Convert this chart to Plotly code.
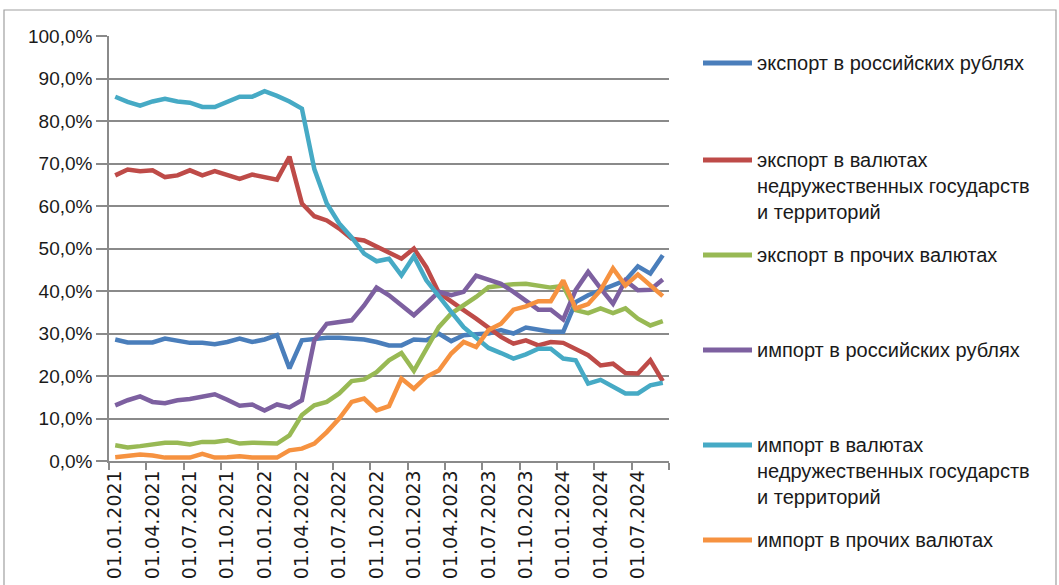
import plotly.graph_objects as go

# ---------------- data ----------------
months = [f"01.{m:02d}.{y}" for y in range(2021, 2025) for m in range(1, 13)][:45]

series_names = [
    "экспорт в российских рублях",
    "экспорт в валютах недружественных государств и территорий",
    "экспорт в прочих валютах",
    "импорт в российских рублях",
    "импорт в валютах недружественных государств и территорий",
    "импорт в прочих валютах",
]

export_rub = [28.6, 27.9, 27.9, 27.9, 28.8, 28.2, 27.8, 27.8, 27.5, 28.0, 28.8, 28.0, 28.6, 29.6, 21.8, 28.4,
              28.8, 29.0, 29.0, 28.8, 28.6, 28.0, 27.2, 27.2, 28.6, 28.4, 30.0, 28.2, 29.6,
              29.8, 30.0, 30.8, 30.0, 31.4, 30.8, 30.4, 30.4, 37.4, 39.0, 40.2, 41.3, 42.5, 45.8, 44.1, 48.4]

export_unfriendly = [67.2, 68.6, 68.2, 68.4, 66.8, 67.2, 68.4, 67.2, 68.2, 67.2, 66.4, 67.4, 66.8, 66.2, 71.6,
                     60.6, 57.6, 56.6, 54.7, 52.3, 51.9, 50.5, 49.2, 47.6, 50.0, 45.6, 39.6,
                     37.4, 35.5, 33.5, 31.2, 29.2, 27.6, 28.4, 27.2, 28.0, 27.8, 26.4, 24.9, 22.5, 22.9,
                     20.7, 20.6, 23.7, 18.8]

export_other = [3.7, 3.2, 3.5, 3.9, 4.3, 4.3, 3.9, 4.5, 4.5, 4.9, 4.1, 4.3, 4.3, 4.1, 6.0, 10.8,
                13.1, 13.9, 15.9, 18.8, 19.2, 20.9, 23.7, 25.4, 21.2, 26.4, 31.5, 34.7, 36.6, 38.6,
                40.9, 41.3, 41.6, 41.7, 41.3, 40.8, 41.2, 35.5, 34.8, 35.9, 34.8, 35.9, 33.5, 31.9, 32.9]

import_rub = [13.1, 14.3, 15.2, 13.9, 13.6, 14.3, 14.6, 15.1, 15.7, 14.4, 13.0, 13.3, 11.9, 13.3, 12.6, 14.3,
              28.4, 32.3, 32.7, 33.1, 36.6, 40.8, 39.0, 36.6, 34.3, 37.0, 39.8, 39.0, 39.8,
              43.6, 42.7, 41.7, 39.8, 37.8, 35.6, 35.6, 33.3, 40.2, 44.5, 40.6, 37.0, 42.5, 40.2, 40.3, 42.7]

import_unfriendly = [85.7, 84.5, 83.6, 84.6, 85.2, 84.6, 84.3, 83.3, 83.3, 84.6, 85.7, 85.7, 87.0, 85.9, 84.6, 82.9,
                     68.7, 60.6, 55.9, 52.6, 48.8, 47.0, 47.6, 43.7, 48.2, 42.5, 38.6, 35.1, 31.5, 29.2,
                     26.6, 25.4, 24.1, 25.1, 26.4, 26.4, 24.1, 23.7, 18.2, 19.1, 17.4, 15.9, 15.9, 17.8, 18.4]

import_other = [0.9, 1.3, 1.5, 1.3, 0.8, 0.8, 0.8, 1.7, 0.8, 0.9, 1.1, 0.8, 0.8, 0.8, 2.5, 2.9,
                4.1, 6.8, 10.0, 13.9, 14.7, 11.9, 12.9, 19.4, 17.0, 19.8, 21.3, 25.3, 28.0, 26.8,
                30.8, 32.3, 35.6, 36.4, 37.6, 37.6, 42.5, 35.9, 36.9, 40.2, 45.3, 41.3, 43.9, 41.3, 38.8]

series_values = [export_rub, export_unfriendly, export_other, import_rub, import_unfriendly, import_other]

# legend text split into lines as in the original
legend_lines = [
    ["экспорт в российских рублях"],
    ["экспорт в валютах", "недружественных государств", "и территорий"],
    ["экспорт в прочих валютах"],
    ["импорт в российских рублях"],
    ["импорт в валютах", "недружественных государств", "и территорий"],
    ["импорт в прочих валютах"],
]

# ---------------- styles ----------------
colors = ["#4A7EBB", "#BE4B48", "#98B954", "#7D60A0", "#46AAC5", "#F69240"]
GRID = "#8a8a8a"
FONT = "Liberation Sans, Arial, sans-serif"

W, H = 1059, 585
L, R, T, B = 109, 669, 36, 461  # plot area in pixels


def px_x(p):
    return (p - L) / (R - L)


def px_y(p):
    return (B - p) / (B - T)


fig = go.Figure()
x_idx = list(range(len(months)))
for name, vals, col in zip(series_names, series_values, colors):
    fig.add_trace(go.Scatter(
        x=x_idx, y=[v / 100 for v in vals], name=name, mode="lines",
        line=dict(color=col, width=4.5), showlegend=False,
        hovertemplate="%{text}: %{y:.1%}<extra>" + name + "</extra>",
        text=months,
    ))

label_idx = list(range(0, len(months), 3))
boundary_ticks = [i - 0.5 for i in range(0, len(months) + 1, 3)]

fig.update_layout(
    width=W, height=H,
    margin=dict(l=L, r=W - R, t=T, b=H - B, pad=0, autoexpand=False),
    paper_bgcolor="white", plot_bgcolor="white",
    separators=", ",
    font=dict(family=FONT, size=19, color="#1a1a1a"),
    xaxis=dict(
        range=[-0.5, len(months) - 0.5], automargin=False,
        tickmode="array", tickvals=label_idx, ticktext=[months[i] for i in label_idx],
        tickangle=-90, ticks="",
        tickfont=dict(family="DejaVu Sans, sans-serif", size=19, color="#1a1a1a"),
        showgrid=False, zeroline=False,
        showline=True, linecolor=GRID, linewidth=1.5,
        minor=dict(tickmode="array", tickvals=boundary_ticks, ticks="outside",
                   ticklen=7, tickwidth=1.5, tickcolor=GRID, showgrid=False),
    ),
    yaxis=dict(
        range=[0, 1], tickmode="linear", tick0=0, dtick=0.1, tickformat=".1%",
        automargin=False,
        ticks="outside", ticklen=11, tickwidth=1.5, tickcolor=GRID,
        showgrid=True, gridcolor=GRID, gridwidth=1.5,
        zeroline=False, showline=True, linecolor=GRID, linewidth=1.5,
        tickfont=dict(family=FONT, size=19, color="#1a1a1a"),
    ),
)

# outer chart border
fig.add_shape(type="rect", xref="paper", yref="paper",
              x0=px_x(4), x1=px_x(1056), y0=px_y(600), y1=px_y(10),
              line=dict(color="#a0a0a0", width=1.2), layer="below")

# manual legend (matching the original spacing)
legend_first_y = [63, 160, 255, 350, 445, 540]
line_step = 26
for lines, y0, col in zip(legend_lines, legend_first_y, colors):
    fig.add_shape(type="line", xref="paper", yref="paper",
                  x0=px_x(703), x1=px_x(752), y0=px_y(y0), y1=px_y(y0),
                  line=dict(color=col, width=5))
    for k, txt in enumerate(lines):
        fig.add_annotation(xref="paper", yref="paper", x=px_x(755), y=px_y(y0 + k * line_step),
                           text=txt, showarrow=False, xanchor="left", yanchor="middle",
                           font=dict(family=FONT, size=20, color="#1a1a1a"))

fig.write_html("out.html", config={"displayModeBar": False},
               post_script="document.body.style.margin='0';document.body.style.overflow='hidden';")
